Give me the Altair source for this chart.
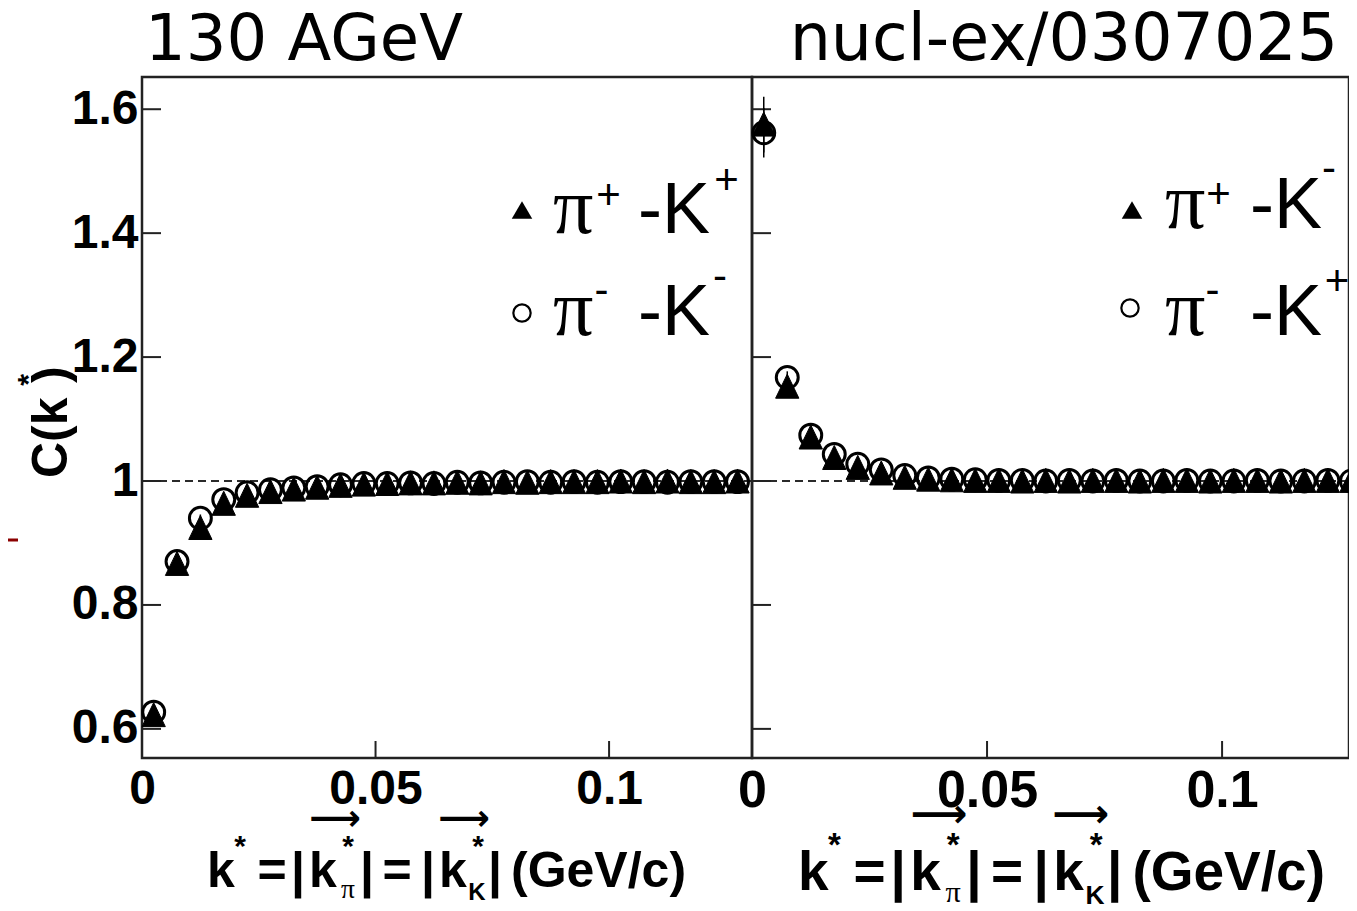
import altair as alt
import pandas as pd

# ---------------- data ----------------
K_STAR = [0.0025, 0.0075, 0.0125, 0.0175, 0.0225, 0.0275, 0.0325, 0.0375, 0.0425,
          0.0475, 0.0525, 0.0575, 0.0625, 0.0675, 0.0725, 0.0775, 0.0825, 0.0875,
          0.0925, 0.0975, 0.1025, 0.1075, 0.1125, 0.1175, 0.1225, 0.1275]

# left panel: pi+ K+ (triangles), pi- K- (circles)
LEFT_TRI = [0.622, 0.866, 0.924, 0.963, 0.976, 0.982, 0.986, 0.989, 0.992, 0.994,
            0.995, 0.996, 0.996, 0.997, 0.996, 0.998, 0.997, 0.998, 0.998, 0.998,
            0.999, 0.998, 0.999, 0.998, 0.998, 0.999]
LEFT_CIRC = [0.627, 0.870, 0.940, 0.970, 0.981, 0.986, 0.989, 0.991, 0.994, 0.996,
             0.996, 0.997, 0.996, 0.998, 0.997, 0.998, 0.999, 0.998, 0.999, 0.998,
             0.999, 0.999, 0.998, 0.999, 0.999, 0.999]
LEFT_TRI_ERR = [0.012, 0.008, 0.006, 0.005, 0.004, 0.004, 0.003, 0.003, 0.003, 0.003,
                0.003, 0.003, 0.003, 0.003, 0.003, 0.003, 0.003, 0.003, 0.003, 0.003,
                0.003, 0.003, 0.003, 0.003, 0.003, 0.003]
LEFT_CIRC_ERR = LEFT_TRI_ERR

# right panel: pi+ K- (triangles), pi- K+ (circles)
RIGHT_TRI = [1.575, 1.152, 1.070, 1.037, 1.021, 1.012, 1.005, 1.002, 1.001, 1.000,
             1.000, 0.999, 1.000, 0.999, 1.000, 1.000, 0.999, 1.000, 1.000, 0.999,
             1.000, 1.000, 0.999, 1.000, 1.000, 1.000]
RIGHT_CIRC = [1.562, 1.167, 1.074, 1.043, 1.027, 1.018, 1.009, 1.005, 1.003, 1.002,
              1.001, 1.001, 1.000, 1.001, 1.000, 1.001, 1.000, 1.000, 1.001, 1.000,
              1.000, 1.001, 1.000, 1.000, 1.001, 1.000]
RIGHT_TRI_ERR = [0.045, 0.010, 0.006, 0.005, 0.004, 0.004, 0.003, 0.003, 0.003, 0.003,
                 0.003, 0.003, 0.003, 0.003, 0.003, 0.003, 0.003, 0.003, 0.003, 0.003,
                 0.003, 0.003, 0.003, 0.003, 0.003, 0.003]
RIGHT_CIRC_ERR = [0.040, 0.010, 0.006, 0.005, 0.004, 0.004, 0.003, 0.003, 0.003, 0.003,
                  0.003, 0.003, 0.003, 0.003, 0.003, 0.003, 0.003, 0.003, 0.003, 0.003,
                  0.003, 0.003, 0.003, 0.003, 0.003, 0.003]

X_TICKS = [0, 0.05, 0.1]
X_INNER_TICKS = [0.05, 0.1]
Y_TICKS = [0.6, 0.8, 1.0, 1.2, 1.4, 1.6]
REF_LINE = [1.0]
Y_DOMAIN = [0.553, 1.652]

# ---------------- styling ----------------
SANS = "Liberation Sans, Arial, Helvetica, sans-serif"
SERIF = "Liberation Serif, Times New Roman, serif"
TOPFONT = "DejaVu Sans, Verdana, sans-serif"
ARROWFONT = "DejaVu Sans, sans-serif"
H = 681
TRI_PATH = "M0,-1L-0.92,0.9L0.92,0.9Z"
DUMMY = pd.DataFrame({"d": [0]})


def txt(s, x, y, size, font=SANS, weight="normal", align="left", angle=0, color="black"):
    return alt.Chart(DUMMY).mark_text(
        text=s, font=font, fontSize=size, fontWeight=weight, align=align,
        baseline="alphabetic", angle=angle, color=color
    ).encode(x=alt.value(x), y=alt.value(y))


def xtitle(x0, y0, s, B):
    pieces = [
        ("k", 0, 0, 1.0, SANS, "bold", "left"),
        ("*", 33, -31, 0.6, SANS, "bold", "center"),
        ("=", 65, 0, 1.0, SANS, "bold", "center"),
        ("|", 91, 0, 1.0, SANS, "bold", "center"),
        ("k", 102, 0, 1.0, SANS, "bold", "left"),
        ("*", 141, -31, 0.6, SANS, "bold", "center"),
        ("π", 141, 11, 0.55, SERIF, "normal", "center"),
        ("|", 160, 0, 1.0, SANS, "bold", "center"),
        ("=", 190, 0, 1.0, SANS, "bold", "center"),
        ("|", 221, 0, 1.0, SANS, "bold", "center"),
        ("k", 232, 0, 1.0, SANS, "bold", "left"),
        ("*", 271, -31, 0.6, SANS, "bold", "center"),
        ("K", 270, 13, 0.48, SANS, "bold", "center"),
        ("|", 288, 0, 1.0, SANS, "bold", "center"),
        ("(GeV/c)", 304, 0, 1.0, SANS, "bold", "left"),
        ("⟶", 128, -57, 0.72, ARROWFONT, "bold", "center"),
        ("⟶", 257, -57, 0.72, ARROWFONT, "bold", "center"),
    ]
    return [txt(t, x0 + dx * s, y0 + dy * s, B * f, font=fo, weight=w, align=a)
            for (t, dx, dy, f, fo, w, a) in pieces]


def panel(tri, circ, tri_err, circ_err, width, xmax, show_ylabels, xlabel_size, extras):
    df = pd.DataFrame({"k": K_STAR, "tri": tri, "circ": circ,
                       "tri_lo": [v - e for v, e in zip(tri, tri_err)],
                       "tri_hi": [v + e for v, e in zip(tri, tri_err)],
                       "circ_lo": [v - e for v, e in zip(circ, circ_err)],
                       "circ_hi": [v + e for v, e in zip(circ, circ_err)]})
    xs = alt.Scale(domain=[0, xmax], nice=False, zero=False)
    ys = alt.Scale(domain=Y_DOMAIN, nice=False, zero=False)
    xaxis = alt.Axis(values=X_TICKS, format=".2~f", ticks=False, tickSize=0, domain=False,
                     grid=False, labelFont=SANS, labelFontSize=xlabel_size,
                     labelFontWeight="bold", labelPadding=7, labelColor="black",
                     labelFlush=False, title=None)
    if show_ylabels:
        yaxis = alt.Axis(values=Y_TICKS, format=".1~f", ticks=False, tickSize=0, domain=False,
                         grid=False, labelFont=SANS, labelFontSize=48,
                         labelFontWeight="bold", labelPadding=4, labelColor="black",
                         labelFlush=False, title=None)
    else:
        yaxis = None

    def X(f):
        return alt.X(f, type="quantitative", scale=xs, axis=xaxis)

    def Y(f):
        return alt.Y(f, type="quantitative", scale=ys, axis=yaxis)

    ref = alt.Chart(pd.DataFrame({"v": REF_LINE})).mark_rule(
        strokeDash=[8, 5], color="#2a2a2a", strokeWidth=1.8).encode(y=Y("v"))
    yt = alt.Chart(pd.DataFrame({"v": Y_TICKS})).mark_rule(
        color="#222222", strokeWidth=2).encode(y=Y("v"), x=alt.value(0), x2=alt.value(19))
    xt = alt.Chart(pd.DataFrame({"t": X_INNER_TICKS})).mark_rule(
        color="#222222", strokeWidth=2).encode(x=X("t"), y=alt.value(H), y2=alt.value(H - 17))
    base = alt.Chart(df)
    err_c = base.mark_rule(color="black", strokeWidth=1.5).encode(
        x=X("k"), y=Y("circ_lo"), y2=alt.Y2("circ_hi"))
    err_t = base.mark_rule(color="black", strokeWidth=1.5).encode(
        x=X("k"), y=Y("tri_lo"), y2=alt.Y2("tri_hi"))
    circles = base.mark_point(shape="circle", size=480, filled=False, stroke="black",
                              strokeWidth=3, opacity=1).encode(x=X("k"), y=Y("circ"))
    tris = base.mark_point(shape=TRI_PATH, size=640, filled=True, fill="black",
                           stroke="black", strokeWidth=1, opacity=1).encode(x=X("k"), y=Y("tri"))
    layers = [ref, yt, xt, err_c, err_t, circles, tris] + extras
    return alt.layer(*layers).properties(width=width, height=H)


def legend_symbols(cy1, cx2, cy2):
    tri = alt.Chart(DUMMY).mark_point(shape="triangle-up", size=420, filled=True,
                                      fill="black", opacity=1).encode(
        x=alt.value(380), y=alt.value(cy1))
    circ = alt.Chart(DUMMY).mark_point(shape="circle", size=300, filled=False,
                                       stroke="black", strokeWidth=2.2, opacity=1).encode(
        x=alt.value(cx2), y=alt.value(cy2))
    return [tri, circ]


LEG = 72   # legend "-K" size
SUP = 42   # legend superscript size
PI = 80    # legend pi size

# ---------- left panel extras ----------
left_extras = []
left_extras += legend_symbols(133, 380, 236)
left_extras += [
    txt("π", 411, 156, PI, font=SERIF),
    txt("+", 466.5, 131.5, SUP, align="center"),
    txt("-K", 496, 156, LEG),
    txt("+", 584.5, 116.5, SUP, align="center"),
    txt("π", 411, 258, PI, font=SERIF),
    txt("-", 459.5, 226.5, SUP, align="center"),
    txt("-K", 496, 258, LEG),
    txt("-", 578, 212.5, SUP, align="center"),
    txt("130 AGeV", 3, -17, 64, font=TOPFONT),
    # y-axis title C(k*)
    txt("C(k", -75, 401, 50, weight="bold", angle=270),
    txt("*", -104, 303, 30, weight="bold", align="center", angle=270),
    txt(")", -75, 306, 50, weight="bold", angle=270),
    # small red mark at the far left
    alt.Chart(DUMMY).mark_rule(color="#8b0000", strokeWidth=3).encode(
        x=alt.value(-134), x2=alt.value(-124), y=alt.value(463)),
]
left_extras += xtitle(207 - 142, 810, 1.0, 50)

# ---------- right panel extras ----------
right_extras = []
right_extras += legend_symbols(133, 378, 231)
right_extras += [
    txt("π", 413, 151, PI, font=SERIF),
    txt("+", 466.5, 131, SUP, align="center"),
    txt("-K", 498, 151, LEG),
    txt("-", 577, 104.5, SUP, align="center"),
    txt("π", 413, 258, PI, font=SERIF),
    txt("-", 460.5, 226.5, SUP, align="center"),
    txt("-K", 498, 258, LEG),
    txt("+", 585, 217.5, SUP, align="center"),
    txt("nucl-ex/0307025", 586, -17, 65, font=TOPFONT, align="right"),
]
right_extras += xtitle(798 - 752, 813, 1.1, 55)

left = panel(LEFT_TRI, LEFT_CIRC, LEFT_TRI_ERR, LEFT_CIRC_ERR, 610, 0.1306, True, 48, left_extras)
right = panel(RIGHT_TRI, RIGHT_CIRC, RIGHT_TRI_ERR, RIGHT_CIRC_ERR, 597, 0.127, False, 52, right_extras)

chart = alt.hconcat(left, right, spacing=0, bounds="flush").properties(
    padding={"left": 134, "top": 69, "right": 1207, "bottom": 824},
    autosize=alt.AutoSizeParams(type="none"),
    background="white",
).configure_view(stroke="#222222", strokeWidth=2.5)

chart.save("out.html", embed_options={"renderer": "svg", "actions": False})
